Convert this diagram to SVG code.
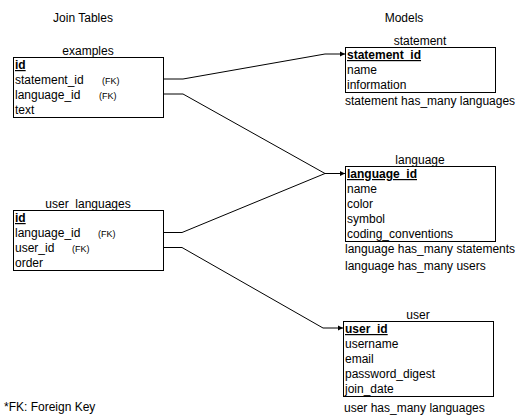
<svg xmlns="http://www.w3.org/2000/svg" width="521" height="419" viewBox="0 0 521 419">
<defs>
<style>
text{font-family:"Liberation Sans",Arial,sans-serif;font-size:12px;fill:#000}
.t{text-anchor:middle}
.pk{font-weight:bold;text-decoration:underline}
.fk{font-size:9px}
.box{fill:#fff;stroke:#000;stroke-width:1}
.conn{fill:none;stroke:#000;stroke-width:1}
</style>
<marker id="arr" viewBox="0 0 10 10" refX="10" refY="5" markerWidth="5" markerHeight="6" orient="auto" markerUnits="userSpaceOnUse">
<path d="M0,0 L10,5 L0,10 Z" fill="#000"/>
</marker>
</defs>
<rect width="521" height="419" fill="#fff"/>
<text class="t" x="83" y="22">Join Tables</text>
<text class="t" x="404" y="22">Models</text>

<g id="connectors">
<path class="conn" d="M163.5,79 H183 L325,54 H345" marker-end="url(#arr)"/>
<path class="conn" d="M163.5,94 H183 L325,173.5 H345" marker-end="url(#arr)"/>
<path class="conn" d="M163.5,232.5 H182 L325,173.5"/>
<path class="conn" d="M163.5,247.5 H182 L323,328 H343" marker-end="url(#arr)"/>
</g>

<g id="examples">
<text class="t" x="88" y="55">examples</text>
<rect class="box" x="13.5" y="57.5" width="150" height="60"/>
<text class="pk" x="15" y="69">id</text>
<text x="15" y="84">statement_id</text><text class="fk" x="102" y="84">(FK)</text>
<text x="15" y="99">language_id</text><text class="fk" x="99" y="99">(FK)</text>
<text x="15" y="114">text</text>
</g>

<g id="user_languages">
<text class="t" x="88" y="208">user_languages</text>
<rect class="box" x="13.5" y="210.5" width="150" height="60"/>
<text class="pk" x="15" y="222">id</text>
<text x="15" y="237">language_id</text><text class="fk" x="98" y="237">(FK)</text>
<text x="15" y="252">user_id</text><text class="fk" x="72" y="252">(FK)</text>
<text x="15" y="267">order</text>
</g>

<g id="statement">
<text class="t" x="420" y="45">statement</text>
<rect class="box" x="345.5" y="47.5" width="150" height="45"/>
<text class="pk" x="347" y="59">statement_id</text>
<text x="347" y="74">name</text>
<text x="347" y="89">information</text>
<text x="345" y="105">statement has_many languages</text>
</g>

<g id="language">
<text class="t" x="420" y="164">language</text>
<rect class="box" x="345.5" y="166.5" width="150" height="75"/>
<text class="pk" x="347" y="178">language_id</text>
<text x="347" y="193">name</text>
<text x="347" y="208">color</text>
<text x="347" y="223">symbol</text>
<text x="347" y="238">coding_conventions</text>
<text x="345" y="253">language has_many statements</text>
<text x="345" y="270">language has_many users</text>
</g>

<g id="user">
<text class="t" x="418" y="319">user</text>
<rect class="box" x="343.5" y="321.5" width="150" height="75"/>
<text class="pk" x="345" y="333">user_id</text>
<text x="345" y="348">username</text>
<text x="345" y="363">email</text>
<text x="345" y="378">password_digest</text>
<text x="345" y="393">join_date</text>
<text x="344" y="412">user has_many languages</text>
</g>

<text x="4" y="411">*FK: Foreign Key</text>
</svg>
